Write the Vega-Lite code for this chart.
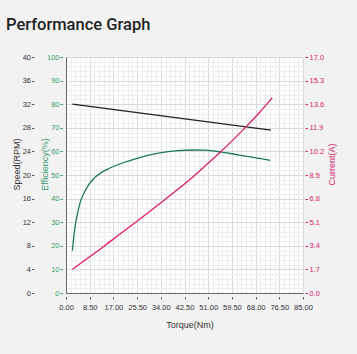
{
  "$schema": "https://vega.github.io/schema/vega-lite/v6.json",
  "width": 237,
  "height": 236,
  "autosize": {"type": "none"},
  "padding": {"left": 66, "top": 57, "right": 54, "bottom": 61},
  "background": "#f2f2f2",
  "view": {"fill": "#ffffff", "stroke": null},
  "title": {
    "text": "Performance Graph",
    "anchor": "start",
    "frame": "group",
    "dx": -60,
    "offset": 20,
    "font": "Roboto",
    "fontSize": 16.5,
    "fontWeight": 500,
    "color": "#222222"
  },
  "config": {
    "axis": {"labelFont": "Liberation Sans", "titleFont": "Liberation Sans", "titleFontWeight": "normal"}
  },
  "datasets": {
    "eff": [
      {"torque": 2.3, "efficiency": 17.9},
      {"torque": 3.0, "efficiency": 26.0},
      {"torque": 4.0, "efficiency": 33.0},
      {"torque": 5.0, "efficiency": 38.0},
      {"torque": 6.5, "efficiency": 42.5},
      {"torque": 8.0, "efficiency": 45.6},
      {"torque": 9.8, "efficiency": 48.3},
      {"torque": 12.5, "efficiency": 50.9},
      {"torque": 15.0, "efficiency": 52.5},
      {"torque": 17.0, "efficiency": 53.6},
      {"torque": 21.0, "efficiency": 55.4},
      {"torque": 25.4, "efficiency": 57.0},
      {"torque": 30.0, "efficiency": 58.5},
      {"torque": 33.7, "efficiency": 59.4},
      {"torque": 40.0, "efficiency": 60.3},
      {"torque": 45.7, "efficiency": 60.6},
      {"torque": 50.0, "efficiency": 60.5},
      {"torque": 55.2, "efficiency": 59.8},
      {"torque": 60.0, "efficiency": 58.9},
      {"torque": 65.0, "efficiency": 57.9},
      {"torque": 70.0, "efficiency": 56.9},
      {"torque": 73.2, "efficiency": 56.2}
    ],
    "speed": [
      {"torque": 2.3, "speed": 32.0},
      {"torque": 73.5, "speed": 27.6}
    ],
    "current": [
      {"torque": 2.3, "current": 1.71},
      {"torque": 10.0, "current": 2.82},
      {"torque": 15.8, "current": 3.7},
      {"torque": 25.0, "current": 5.1},
      {"torque": 33.7, "current": 6.45},
      {"torque": 40.0, "current": 7.45},
      {"torque": 45.7, "current": 8.4},
      {"torque": 50.0, "current": 9.17},
      {"torque": 55.2, "current": 10.12},
      {"torque": 60.0, "current": 11.05},
      {"torque": 64.8, "current": 12.02},
      {"torque": 69.5, "current": 13.02},
      {"torque": 74.0, "current": 14.07}
    ]
  },
  "layer": [
    {
      "data": {"name": "eff"},
      "mark": {"type": "line", "strokeOpacity": 0},
      "encoding": {
        "x": {"field": "torque", "type": "quantitative", "scale": {"domain": [0, 85], "nice": false},
          "axis": {"orient": "bottom", "title": null, "labels": false, "ticks": false, "domain": false, "grid": true, "gridColor": "#eeeeee", "gridWidth": 1,
            "values": [1.7,3.4,5.1,6.8,10.2,11.9,13.6,15.3,18.7,20.4,22.1,23.8,27.2,28.9,30.6,32.3,35.7,37.4,39.1,40.8,44.2,45.9,47.6,49.3,52.7,54.4,56.1,57.8,61.2,62.9,64.6,66.3,69.7,71.4,73.1,74.8,78.2,79.9,81.6,83.3]}},
        "y": {"field": "efficiency", "type": "quantitative", "scale": {"domain": [0, 100], "nice": false},
          "axis": {"orient": "left", "title": null, "labels": false, "ticks": false, "domain": false, "grid": true, "gridColor": "#eeeeee", "gridWidth": 1,
            "values": [2,4,6,8,12,14,16,18,22,24,26,28,32,34,36,38,42,44,46,48,52,54,56,58,62,64,66,68,72,74,76,78,82,84,86,88,92,94,96,98]}}
      }
    },
    {
      "data": {"name": "eff"},
      "mark": {"type": "line", "strokeOpacity": 0},
      "encoding": {
        "x": {"field": "torque", "type": "quantitative", "scale": {"domain": [0, 85], "nice": false},
          "axis": {"orient": "bottom", "title": null, "labels": false, "ticks": false, "domain": true, "domainColor": "#666666", "grid": true, "gridColor": "#d9d9d9",
            "values": [0, 8.5, 17, 25.5, 34, 42.5, 51, 59.5, 68, 76.5, 85]}},
        "y": {"field": "efficiency", "type": "quantitative", "scale": {"domain": [0, 100], "nice": false},
          "axis": {"orient": "left", "title": null, "labels": false, "ticks": false, "domain": true, "domainColor": "#666666", "grid": true, "gridColor": "#d9d9d9",
            "values": [0, 10, 20, 30, 40, 50, 60, 70, 80, 90, 100]}}
      }
    },
    {
      "data": {"name": "speed"},
      "mark": {"type": "line", "color": "#222222", "strokeWidth": 1.3},
      "encoding": {
        "x": {"field": "torque", "type": "quantitative", "scale": {"domain": [0, 85], "nice": false},
          "axis": {"orient": "bottom", "title": "Torque(Nm)", "grid": false, "domain": false, "offset": 3.5, "tickSize": 2.5, "tickColor": "#555555",
            "labelPadding": 4, "labelFontSize": 7.5, "labelColor": "#333333", "format": ".2f", "labelOverlap": false, "labelFlush": false,
            "titleFontSize": 9, "titleColor": "#333333", "titleX": 123.5, "titleY": 27.5, "titleBaseline": "middle",
            "values": [0, 8.5, 17, 25.5, 34, 42.5, 51, 59.5, 68, 76.5, 85]}},
        "y": {"field": "speed", "type": "quantitative", "scale": {"domain": [0, 40], "nice": false},
          "axis": {"orient": "left", "title": "Speed(RPM)", "grid": false, "domain": false, "offset": 32, "tickSize": 2.5, "tickColor": "#555555",
            "labelPadding": 1, "labelFontSize": 7.5, "labelColor": "#333333", "labelOverlap": false,
            "titleFontSize": 9, "titleColor": "#333333", "titleX": -17.5, "titleY": 107, "titleBaseline": "middle", "titleAngle": 270,
            "values": [0, 4, 8, 12, 16, 20, 24, 28, 32, 36, 40]}}
      }
    },
    {
      "data": {"name": "eff"},
      "mark": {"type": "line", "color": "#1e7a55", "strokeWidth": 1.3, "interpolate": "monotone"},
      "encoding": {
        "x": {"field": "torque", "type": "quantitative", "scale": {"domain": [0, 85], "nice": false}, "axis": null},
        "y": {"field": "efficiency", "type": "quantitative", "scale": {"domain": [0, 100], "nice": false},
          "axis": {"orient": "left", "title": "Efficiency(%)", "grid": false, "domain": false, "offset": 3.5, "tickSize": 2.5, "tickColor": "#3a9a72",
            "labelPadding": 1, "labelFontSize": 7.5, "labelColor": "#3a9a72", "labelOverlap": false,
            "titleFontSize": 9, "titleColor": "#3a9a72", "titleX": -18.5, "titleY": 107, "titleBaseline": "middle", "titleAngle": 270,
            "values": [0, 10, 20, 30, 40, 50, 60, 70, 80, 90, 100]}}
      }
    },
    {
      "data": {"name": "current"},
      "mark": {"type": "line", "color": "#dc1f66", "strokeWidth": 1.3, "interpolate": "monotone"},
      "encoding": {
        "x": {"field": "torque", "type": "quantitative", "scale": {"domain": [0, 85], "nice": false}, "axis": null},
        "y": {"field": "current", "type": "quantitative", "scale": {"domain": [0, 17], "nice": false},
          "axis": {"orient": "right", "title": "Current(A)", "grid": false, "domain": false, "offset": 2, "tickSize": 2.5, "tickColor": "#d6266d",
            "labelPadding": 1.5, "labelFontSize": 7.5, "labelColor": "#d6266d", "format": ".1f", "labelOverlap": false,
            "titleFontSize": 9, "titleColor": "#d6266d", "titleX": 26, "titleY": 107, "titleBaseline": "middle", "titleAngle": 270,
            "values": [0, 1.7, 3.4, 5.1, 6.8, 8.5, 10.2, 11.9, 13.6, 15.3, 17]}}
      }
    }
  ],
  "resolve": {"scale": {"y": "independent"}, "axis": {"x": "independent", "y": "independent"}}
}
